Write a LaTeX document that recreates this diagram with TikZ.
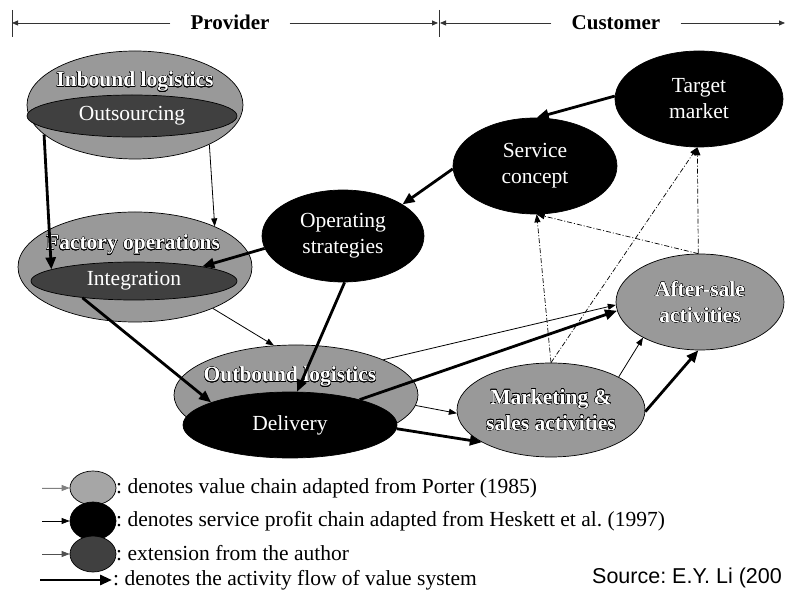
\documentclass[tikz,border=0pt]{standalone}
\usepackage{fontspec}
\setmainfont{Liberation Serif}
\newfontfamily\srcfont{Liberation Sans}
\usetikzlibrary{shapes.geometric,arrows.meta,calc}
\IfFileExists{contour.sty}{\usepackage{contour}\contourlength{0.3pt}\def\havecontour{1}}{}
\newcommand\olt[1]{\ifdefined\havecontour\contour{black}{#1}\else#1\fi}
\definecolor{vgrey}{HTML}{999999}
\definecolor{xgrey}{HTML}{404040}
\definecolor{lgrey}{HTML}{A6A6A6}
\definecolor{agrey}{HTML}{808080}
\definecolor{dgrey}{HTML}{505050}
\frenchspacing
\begin{document}
\begin{tikzpicture}[x=1pt,y=-1pt,
  every node/.style={font=\fontsize{21.5}{26}\selectfont},
  ell/.style={ellipse, draw=black, line width=0.7pt, inner sep=0pt, align=center},
  gell/.style={ell, fill=vgrey, text=white, font=\fontsize{21.5}{26}\selectfont\bfseries},
  dell/.style={ell, fill=xgrey, text=white},
  blk/.style={ell, fill=black, text=white},
  lbl/.style={text=white, font=\fontsize{21.5}{26}\selectfont\bfseries, inner sep=0pt},
  hdr/.style={font=\fontsize{21}{25}\selectfont\bfseries, inner xsep=20pt, inner ysep=0pt, text height=16pt, text depth=2pt},
  hdrarr/.style={line width=0.8pt, draw=black!80, -{Triangle[length=6pt,width=5pt]}},
  thk/.style={line width=2.8pt, -{Triangle[length=12pt,width=10pt]}},
  thn/.style={line width=0.8pt, -{Triangle[length=8pt,width=6pt]}},
  dd/.style={line width=0.7pt, dash pattern=on 5pt off 2pt on 1pt off 2pt, -{Triangle[length=8pt,width=6pt]}},
  lgt/.style={anchor=west, inner sep=0pt}
]
\useasboundingbox (0,0) rectangle (785,593);

% ---------- header ----------
\coordinate (lb1) at (12,10); \coordinate (lb2) at (12,37);
\coordinate (mb1) at (439,10); \coordinate (mb2) at (439,37);
\coordinate (lt) at (12,23); \coordinate (ml) at (438,23);
\coordinate (mr) at (440,23); \coordinate (rt) at (785,23);
\node[hdr] (prov) at (230,23) {Provider};
\node[hdr] (cust) at (616,23) {Customer};
\draw[line width=0.8pt, black!80] (lb1) -- (lb2);
\draw[line width=0.8pt, black!80] (mb1) -- (mb2);
\draw[hdrarr] (prov.west) -- (lt);
\draw[hdrarr] (prov.east) -- (ml);
\draw[hdrarr] (cust.west) -- (mr);
\draw[hdrarr] (cust.east) -- (rt);

% ---------- value-chain ellipses ----------
\node[gell, minimum width=216pt, minimum height=108pt] (inb) at (135,105) {};
\node[dell, minimum width=210pt, minimum height=42pt] (outs) at (132,116) {Outsourcing};
\node[lbl] (inbl) at (135,82) {\olt{Inbound logistics}};

\node[gell, minimum width=234pt, minimum height=110pt] (fac) at (135,267) {};
\node[dell, minimum width=206pt, minimum height=38pt] (integ) at (134,281) {Integration};
\node[lbl] (facl) at (133,245) {\olt{Factory operations}};

\node[gell, minimum width=244pt, minimum height=100pt] (outb) at (296,395) {};
\node[blk, minimum width=214pt, minimum height=66pt] (deliv) at (290,425) {Delivery};
\node[lbl] (outbl) at (290,377) {\olt{Outbound logistics}};

\node[blk, minimum width=162pt, minimum height=92pt] (ops) at (343,236) {Operating\\strategies};
\node[blk, minimum width=164pt, minimum height=96pt] (svc) at (535,166) {Service\\concept};
\node[blk, minimum width=168pt, minimum height=96pt] (tgt) at (699,99) {Target\\market};
\node[gell, minimum width=168pt, minimum height=96pt] (after) at (700,302) {\olt{After-sale}\\\olt{activities}};
\node[gell, minimum width=188pt, minimum height=94pt] (mkt) at (551,410) {\olt{Marketing \&}\\\olt{sales activities}};

% ---------- thin arrows (value chain) ----------
\draw[thn] (inb.332) -- (fac.27);
\draw[thn] (fac.332) -- (outb.114);
\draw[thn] (outb.22) -- (after.182);
\draw[thn] (outb.355) -- (mkt.182);
\draw[thn] (mkt.26) -- (after.212);

% ---------- dash-dot arrows ----------
\draw[dd] (mkt.north) -- (svc.272);
\draw[dd] (after.92) -- (svc.272);
\draw[dd] (mkt.north) -- (tgt.268);
\draw[dd] (after.92) -- (tgt.268);

% ---------- thick arrows (activity flow) ----------
\draw[thk] (inb.198) -- (integ.172);
\draw[thk] (ops.189) -- (integ.12);
\draw[thk] (integ.198) -- (deliv.164);
\draw[thk] (ops.272) -- (deliv.78);
\draw[thk] (tgt.178) -- (svc.88);
\draw[thk] (svc.182) -- (ops.28);
\draw[thk] (deliv.20) -- (after.186);
\draw[thk] (deliv.358) -- (mkt.205);
\draw[thk] (mkt.359) -- (after.268);

% ---------- legend ----------
\node[ell, fill=lgrey, minimum width=46pt, minimum height=34pt] (lg1) at (93,488) {};
\node[blk, minimum width=46pt, minimum height=38pt] (lg2) at (93,521) {};
\node[dell, minimum width=46pt, minimum height=36pt] (lg3) at (93,554) {};
\coordinate (la1) at (42,488);
\coordinate (la2) at (42,521);
\coordinate (la3) at (42,554);
\coordinate (la4s) at (40,580);
\coordinate (la4e) at (112,580);
\draw[thn, draw=agrey, fill=agrey] (la1) -- (lg1);
\draw[thn] (la2) -- (lg2);
\draw[thn, draw=dgrey, fill=dgrey] (la3) -- (lg3);
\draw[thk] (la4s) -- (la4e);
\node[lgt] (lt1) at (116,488) {: denotes value chain adapted from Porter (1985)};
\node[lgt] (lt2) at (116,521) {: denotes service profit chain adapted from Heskett et al. (1997)};
\node[lgt] (lt3) at (116,553) {: extension from the author};
\node[lgt] (lt4) at (113,580) {: denotes the activity flow of value system};
\node[anchor=west, inner sep=0pt, font=\srcfont\fontsize{21.5}{25}\selectfont] (src) at (592,578) {Source: E.Y. Li (200};
\end{tikzpicture}
\end{document}
